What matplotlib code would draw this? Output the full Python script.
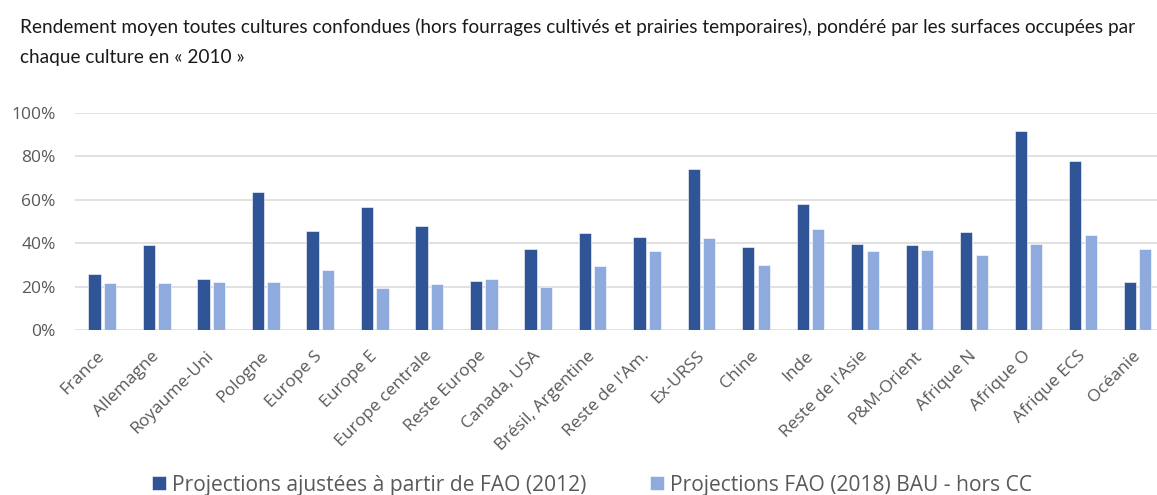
import matplotlib
matplotlib.use("Agg")
import matplotlib.pyplot as plt
import numpy as np
from matplotlib.ticker import PercentFormatter

categories = ["France", "Allemagne", "Royaume-Uni", "Pologne", "Europe S", "Europe E",
              "Europe centrale", "Reste Europe", "Canada, USA", "Brésil, Argentine",
              "Reste de l'Am.", "Ex-URSS", "Chine", "Inde", "Reste de l'Asie",
              "P&M-Orient", "Afrique N", "Afrique O", "Afrique ECS", "Océanie"]
fao2012 = [25.8, 39.3, 23.4, 63.6, 45.5, 56.4, 47.8, 22.7, 37.4, 44.6,
           42.9, 74.2, 38.2, 57.8, 39.5, 39.1, 45.2, 91.6, 78.0, 22.1]
fao2018 = [21.5, 21.6, 21.9, 22.2, 27.4, 19.5, 21.0, 23.6, 19.6, 29.4,
           36.2, 42.5, 29.9, 46.4, 36.5, 36.9, 34.6, 39.4, 43.7, 37.2]
series_names = ["Projections ajustées à partir de FAO (2012)",
                "Projections FAO (2018) BAU - hors CC"]
title_lines = ["Rendement moyen toutes cultures confondues (hors fourrages cultivés et prairies temporaires), pondéré par les surfaces occupées par",
               "chaque culture en « 2010 »"]
colors = ["#2F5597", "#8FAADC"]

W, H = 1157, 495
fig = plt.figure(figsize=(W / 100, H / 100), dpi=100)
ax = fig.add_axes([75 / W, 1 - 330 / H, (1164.75 - 75) / W, (330 - 112.7) / H])

x = np.arange(len(categories))
bw = 0.225
off = 0.142
ax.bar(x - off, np.array(fao2012) / 100, bw, color=colors[0], edgecolor="white",
       linewidth=0.4, label=series_names[0], zorder=3)
ax.bar(x + off, np.array(fao2018) / 100, bw, color=colors[1], edgecolor="white",
       linewidth=0.4, label=series_names[1], zorder=3)

ax.set_xlim(-0.5, len(categories) - 0.5)
ax.set_ylim(0, 1.0)
ax.set_yticks(np.arange(0, 1.01, 0.2))
ax.yaxis.set_major_formatter(PercentFormatter(1.0, decimals=0))
ax.grid(axis="y", color="#D9D9D9", linewidth=1.1, zorder=0)
for s in ax.spines.values():
    s.set_visible(False)
ax.tick_params(axis="y", length=0, pad=14, labelsize=12.5, labelcolor="#595959")
ax.tick_params(axis="x", length=0, pad=17, labelsize=12.5, labelcolor="#595959")
ax.set_xticks(x)
ax.set_xticklabels(categories, rotation=45, ha="right", va="center",
                   rotation_mode="anchor", fontfamily="Open Sans")
for lab in ax.get_yticklabels():
    lab.set_fontfamily("Open Sans")

title_kw = {"family": ["Lato", "DejaVu Sans"]}
t1 = fig.text(20 / W, 1 - 33 / H, title_lines[0], fontsize=13.5, color="#1a1a1a",
              va="baseline", ha="left", **title_kw)
t2 = fig.text(20 / W, 1 - 63 / H, title_lines[1], fontsize=13.5, color="#1a1a1a",
              va="baseline", ha="left", **title_kw)
fig.canvas.draw()
r = fig.canvas.get_renderer()
w1 = t1.get_window_extent(r).width
target = 1117.0
fs = 13.5 * target / w1
t1.set_fontsize(fs)
t2.set_fontsize(fs)

leg = fig.legend(loc="center", bbox_to_anchor=(592 / W, 1 - 485 / H), ncol=2, frameon=False,
                 prop={"family": "Open Sans", "size": 15.1}, handlelength=0.67,
                 handleheight=0.67, handletextpad=0.29, columnspacing=3.0, labelcolor="#595959")

fig.savefig("out.png", dpi=100)
